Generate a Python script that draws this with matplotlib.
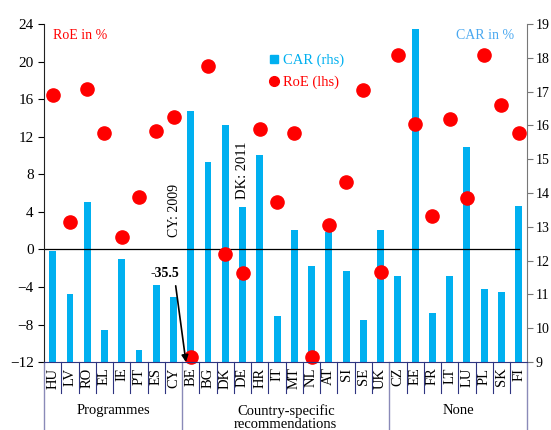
import numpy as np
import matplotlib
matplotlib.use("Agg")
import matplotlib.pyplot as plt
from matplotlib.lines import Line2D
from matplotlib import rcParams

rcParams['font.family'] = ['Liberation Serif', 'DejaVu Serif']
rcParams['font.size'] = 10

countries = ['HU', 'LV', 'RO', 'EL', 'IE', 'PT', 'ES', 'CY',
             'BE', 'BG', 'DK', 'DE', 'HR', 'IT', 'MT', 'NL', 'AT', 'SI', 'SE', 'UK',
             'CZ', 'EE', 'FR', 'LT', 'LU', 'PL', 'SK', 'FI']
groups = ['Programmes', 'Country-specific\nrecommendations', 'None']
group_sizes = [8, 12, 8]

# capital adequacy ratio, right axis
car = [12.28, 11.0, 13.74, 9.95, 12.05, 9.35, 11.28, 10.93,
       16.43, 14.92, 16.0, 13.58, 15.14, 10.36, 12.9, 11.85, 12.85, 11.69, 10.24, 12.9,
       11.56, 18.85, 10.46, 11.56, 15.36, 11.16, 11.07, 13.62]
# return on equity, left axis (BE is off the scale)
roe = [16.4, 2.9, 17.05, 12.4, 1.35, 5.6, 12.6, 14.1,
       -35.5, 19.5, -0.5, -2.5, 12.85, 5.0, 12.35, -11.6, 2.6, 7.2, 16.95, -2.4,
       20.7, 13.35, 3.6, 13.9, 5.5, 20.7, 15.4, 12.4]

blue = '#00b0f0'
red = '#ff0000'
navy = '#2e3480'
sep = '#8a8ab8'

x = np.arange(len(countries))

fig = plt.figure(figsize=(5.51, 4.30), dpi=100)
ax = fig.add_axes([0.080, 0.158, 0.877, 0.786])
ax2 = ax.twinx()
ax.set_zorder(ax2.get_zorder() + 1)
ax.patch.set_visible(False)

ax2.bar(x, car, width=0.4, color=blue, label='CAR (rhs)')
ax2.set_ylim(9, 19)
ax2.set_yticks(np.arange(9, 20, 1))

ax.axhline(0, xmin=0, xmax=0.983, color='black', lw=0.9)
roe_shown = np.maximum(roe, -11.45)
ax.plot(x, roe_shown, 'o', color=red, ms=9.5, ls='none', label='RoE (lhs)', clip_on=False)
ax.set_ylim(-12, 24)
ax.set_yticks(np.arange(-12, 25, 4))
ax.set_xlim(-0.5, len(countries) - 0.5)

ax.set_xticks(x)
ax.set_xticklabels(countries, rotation=90, fontsize=10.5)
ax.tick_params(axis='x', length=0, pad=4)
ax.tick_params(axis='y', direction='out', length=4, labelsize=11)
ax2.tick_params(axis='y', direction='out', length=4, labelsize=10, pad=2, color='#777777')

for a in (ax, ax2):
    a.spines['top'].set_visible(False)
ax.spines['right'].set_visible(False)
ax2.spines['left'].set_visible(False)
ax2.spines['bottom'].set_visible(False)
ax2.spines['right'].set_color('#777777')
ax.spines['left'].set_color('#222222')
ax.spines['bottom'].set_color(navy)

# separators under the axis
trans = ax.get_xaxis_transform()
bounds = np.cumsum([0] + group_sizes) - 0.5
for b in np.arange(-0.5, len(countries), 1.0):
    if b in bounds:
        ax.add_line(Line2D([b, b], [0, -0.205], transform=trans, color=sep, lw=1.0, clip_on=False))
    else:
        ax.add_line(Line2D([b, b], [0, -0.092], transform=trans, color=navy, lw=0.8, clip_on=False))
for g, lo, hi in zip(groups, bounds[:-1], bounds[1:]):
    ax.text((lo + hi) / 2, -0.124, g, transform=trans, ha='center', va='top',
            fontsize=10.5, linespacing=1.05)

ax.text(0.018, 0.985, 'RoE in %', transform=ax.transAxes, color=red, fontsize=10,
        ha='left', va='top')
ax.text(0.972, 0.985, 'CAR in %', transform=ax.transAxes, color='#4aa8f0', fontsize=10,
        ha='right', va='top')

ax.text(7.07, 4.2, 'CY: 2009', rotation=90, ha='center', va='center', fontsize=10)
ax.text(11.0, 8.4, 'DK: 2011', rotation=90, ha='center', va='center', fontsize=10.5)
ax.annotate('-35.5', xy=(7.72, -12), xytext=(6.5, -2.6), ha='center', va='center',
            fontsize=10, fontweight='bold',
            arrowprops=dict(arrowstyle='-|>', color='black', lw=1.2, relpos=(0.85, 0),
                            shrinkA=2, shrinkB=0, mutation_scale=10))

h1, l1 = ax2.get_legend_handles_labels()
h2, l2 = ax.get_legend_handles_labels()
h1 = [Line2D([], [], marker='s', color=blue, ls='none', ms=6)]
h2 = [Line2D([], [], marker='o', color=red, ls='none', ms=7)]
leg = ax.legend(h1 + h2, l1 + l2, loc='upper left', bbox_to_anchor=(0.455, 0.93),
                frameon=False, handlelength=0.6, handletextpad=0.3, fontsize=10.5,
                labelspacing=0.6, borderaxespad=0)
for t, c in zip(leg.get_texts(), [blue, red]):
    t.set_color(c)

fig.savefig('out.png', dpi=100)
